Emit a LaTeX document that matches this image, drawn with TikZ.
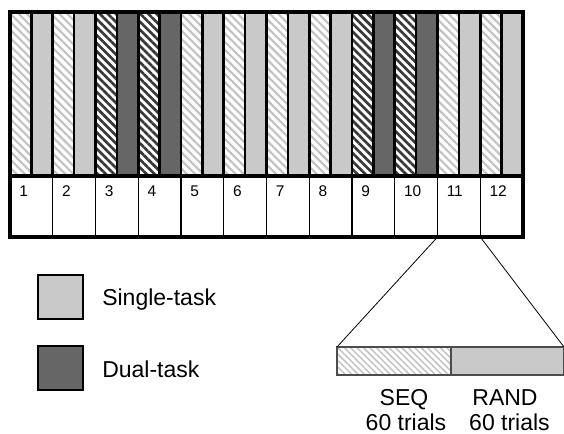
\documentclass[tikz,border=0pt]{standalone}
\usepackage{fontspec}
\setmainfont{Liberation Sans}
\usetikzlibrary{patterns.meta}
\definecolor{lightfill}{gray}{0.79}
\definecolor{darkfill}{gray}{0.40}
\definecolor{darkstripe}{gray}{0.22}
\definecolor{lightstripe}{gray}{0.76}
\definecolor{edgegray}{gray}{0.30}
\begin{document}
\begin{tikzpicture}[x=0.75pt,y=-0.75pt,
  barline/.style={draw=black,line width=2pt},
  lighthatch/.style={pattern={Lines[angle=-45,distance=4.3pt,line width=1.6pt]},pattern color=lightstripe},
  darkhatch/.style={pattern={Lines[angle=-45,distance=4.3pt,line width=2pt]},pattern color=darkstripe},
  finehatch/.style={pattern={Lines[angle=-45,distance=3.4pt,line width=1.1pt]},pattern color=lightstripe},
  cell/.style={draw=black,line width=0.9pt,rectangle,inner sep=0pt,outer sep=0pt,minimum width=32.06pt,minimum height=45.75pt},
  num/.style={font=\fontsize{11.6pt}{13pt}\selectfont,anchor=base west,inner sep=0pt},
  big/.style={font=\fontsize{17.25pt}{20pt}\selectfont,inner sep=0pt},
  legsq/.style={draw=black,line width=2pt,rectangle,inner sep=0pt,outer sep=0pt,minimum width=33.75pt,minimum height=33pt},
  expbar/.style={draw=edgegray,line width=0.8pt,rectangle,inner sep=0pt,outer sep=0pt,minimum height=21pt},
  zoomline/.style={draw=black,line width=0.6pt}]
\useasboundingbox[fill=white] (0,0) rectangle (564,433);
% bars
\foreach \i in {1,...,12}{
  \pgfmathsetmacro{\xa}{10+42.75*(\i-1)}
  \pgfmathsetmacro{\xb}{\xa+21.375}
  \pgfmathsetmacro{\xc}{\xa+42.75}
  \ifnum\i=3 \def\dual{1}\else\ifnum\i=4 \def\dual{1}\else\ifnum\i=9 \def\dual{1}\else\ifnum\i=10 \def\dual{1}\else\def\dual{0}\fi\fi\fi\fi
  \if1\dual
    \path[darkhatch] (\xa,12) rectangle (\xb,176);
    \path[fill=darkfill] (\xb,12) rectangle (\xc,176);
  \else
    \path[lighthatch] (\xa,12) rectangle (\xb,176);
    \path[fill=lightfill] (\xb,12) rectangle (\xc,176);
  \fi
  \draw[barline] (\xa,12) rectangle (\xb,176);
  \draw[barline] (\xb,12) rectangle (\xc,176);
  % session cells
  \node[cell] (c\i) at (\xb,206.5) {};
  \node[num] (n\i) at ([shift={(9,20)}]c\i.north west) {\i};
}
% outer frame
\draw[line width=2.3pt] (10,12) rectangle (523,237);
\draw[line width=2.3pt] (10,176) -- (523,176);
% legend
\node[legsq,fill=lightfill] (sq1) at (60.5,297) {};
\node[big,anchor=base west] (t1) at (102,305) {Single-task};
\node[legsq,fill=darkfill] (sq2) at (60.5,368) {};
\node[big,anchor=base west] (t2) at (102,377) {Dual-task};
% expanded block
\node[expbar,minimum width=85.5pt,finehatch,anchor=north west] (seq) at (337,347) {};
\node[expbar,minimum width=84.75pt,fill=lightfill,anchor=north west] (rand) at (451,347) {};
\draw[expbar] (seq.north west) rectangle (rand.south east);
\draw[zoomline] (c11.south west) -- (seq.north west);
\draw[zoomline] (c11.south east) -- (rand.north east);
\node[big,anchor=base] (seqa) at (404,405) {SEQ};
\node[big,anchor=base] (seqb) at (406,430) {60 trials};
\node[big,anchor=base] (randa) at (505,405) {RAND};
\node[big,anchor=base] (randb) at (509.5,430) {60 trials};
\end{tikzpicture}
\end{document}
